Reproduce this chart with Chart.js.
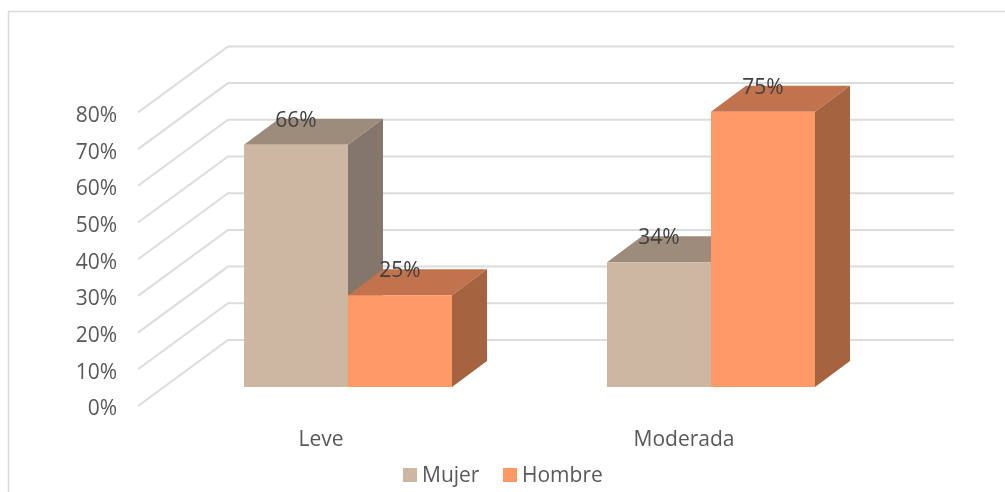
<!DOCTYPE html>
<html>
<head>
<meta charset="utf-8">
<title>Leve / Moderada</title>
<script src="https://cdn.jsdelivr.net/npm/chart.js@4"></script>
<style>
    body { margin: 0; background: #fff; }
    canvas { display: block; }
</style>
</head>
<body>
<canvas id="myChart" width="1005" height="492"></canvas>
<script>
const categories = ['Leve', 'Moderada'];
const mujer = [66, 34];
const hombre = [25, 75];
const yMax = 80;
const yStep = 10;

// Faces of the 3D look: front, top, side
const mujerColors = ['#CDB7A3', '#9D8C7C', '#84766A'];
const hombreColors = ['#FF9966', '#C0734D', '#A5633F'];

// Offsets of the fake perspective, in pixels
const barDepth = { dx: 35, dy: -26 };
const floorFront = { dx: -28.5, dy: 19 };
const floorBack = { dx: 61.5, dy: -47 };

const textFont = '21px "Open Sans"';

function face(ctx, points, color) {
    ctx.fillStyle = color;
    ctx.beginPath();
    points.forEach((p, i) => i ? ctx.lineTo(p[0], p[1]) : ctx.moveTo(p[0], p[1]));
    ctx.closePath();
    ctx.fill();
}

const depthPlugin = {
    id: 'depth',
    beforeDraw(chart) {
        // Frame of the pasted picture, only top and left show
        const { ctx } = chart;
        ctx.save();
        ctx.strokeStyle = '#DADADA';
        ctx.lineWidth = 1.5;
        ctx.beginPath();
        ctx.moveTo(8.5, 492);
        ctx.lineTo(8.5, 11.5);
        ctx.lineTo(1005, 11.5);
        ctx.stroke();
        ctx.restore();
    },
    beforeDatasetsDraw(chart) {
        const { ctx, chartArea, scales: { y } } = chart;
        const left = chartArea.left;
        const right = chartArea.right;

        // Side wall and back wall lines
        ctx.save();
        ctx.strokeStyle = '#DCDCDC';
        ctx.lineWidth = 2;
        y.ticks.forEach(t => {
            const py = y.getPixelForValue(t.value);
            ctx.beginPath();
            ctx.moveTo(left + floorFront.dx, py + floorFront.dy);
            ctx.lineTo(left + floorBack.dx, py + floorBack.dy);
            ctx.lineTo(right + floorBack.dx, py + floorBack.dy);
            ctx.stroke();
        });

        // Top and side of every bar, fronts are drawn by Chart.js after this
        chart.data.datasets.forEach((ds, d) => {
            chart.getDatasetMeta(d).data.forEach(bar => {
                const x0 = bar.x - bar.width / 2;
                const x1 = bar.x + bar.width / 2;
                const { dx, dy } = barDepth;
                face(ctx, [[x0, bar.y], [x1, bar.y], [x1 + dx, bar.y + dy], [x0 + dx, bar.y + dy]], ds.faces[1]);
                face(ctx, [[x1, bar.y], [x1 + dx, bar.y + dy], [x1 + dx, bar.base + dy], [x1, bar.base]], ds.faces[2]);
            });
        });
        ctx.restore();
    },
    afterDatasetsDraw(chart) {
        const { ctx } = chart;
        ctx.save();
        ctx.font = textFont;
        ctx.textBaseline = 'middle';

        // Value labels
        ctx.fillStyle = '#404040';
        ctx.textAlign = 'center';
        chart.data.datasets.forEach((ds, d) => {
            chart.getDatasetMeta(d).data.forEach((bar, i) => {
                ctx.fillText(ds.data[i] + '%', bar.x, bar.y - 24);
            });
        });

        // Legend, the built in one can't sit this close under the axis labels
        ctx.textAlign = 'left';
        let x = 403;
        chart.data.datasets.forEach(ds => {
            ctx.fillStyle = ds.faces[0];
            ctx.fillRect(x, 468, 14, 14);
            ctx.fillStyle = '#595959';
            ctx.fillText(ds.label, x + 19, 476);
            x += 100;
        });
        ctx.restore();
    }
};

const ctx = document.getElementById('myChart').getContext('2d');
new Chart(ctx, {
    type: 'bar',
    data: {
        labels: categories,
        datasets: [
            { label: 'Mujer', data: mujer, backgroundColor: mujerColors[0], faces: mujerColors },
            { label: 'Hombre', data: hombre, backgroundColor: hombreColors[0], faces: hombreColors }
        ]
    },
    options: {
        responsive: false,
        animation: false,
        layout: { padding: { top: 93.4, right: 112.5, left: 0, bottom: 0 } },
        datasets: { bar: { categoryPercentage: 0.573, barPercentage: 1 } },
        plugins: {
            tooltip: { enabled: false },
            legend: { display: false }
        },
        scales: {
            x: {
                grid: { display: false },
                border: { display: false },
                afterFit: s => { s.height = 105; },
                ticks: {
                    color: '#595959',
                    font: { family: '"Open Sans"', size: 21 },
                    padding: 32,
                    labelOffset: -27,
                    maxRotation: 0
                }
            },
            y: {
                min: 0,
                max: yMax,
                grid: { display: false, drawTicks: false },
                border: { display: false },
                afterFit: s => { s.width = 166.5; },
                ticks: {
                    stepSize: yStep,
                    color: '#595959',
                    font: { family: '"Open Sans"', size: 21 },
                    padding: 49.5,
                    labelOffset: 22.5,
                    callback: v => v + '%'
                }
            }
        }
    },
    plugins: [depthPlugin]
});
</script>
</body>
</html>
